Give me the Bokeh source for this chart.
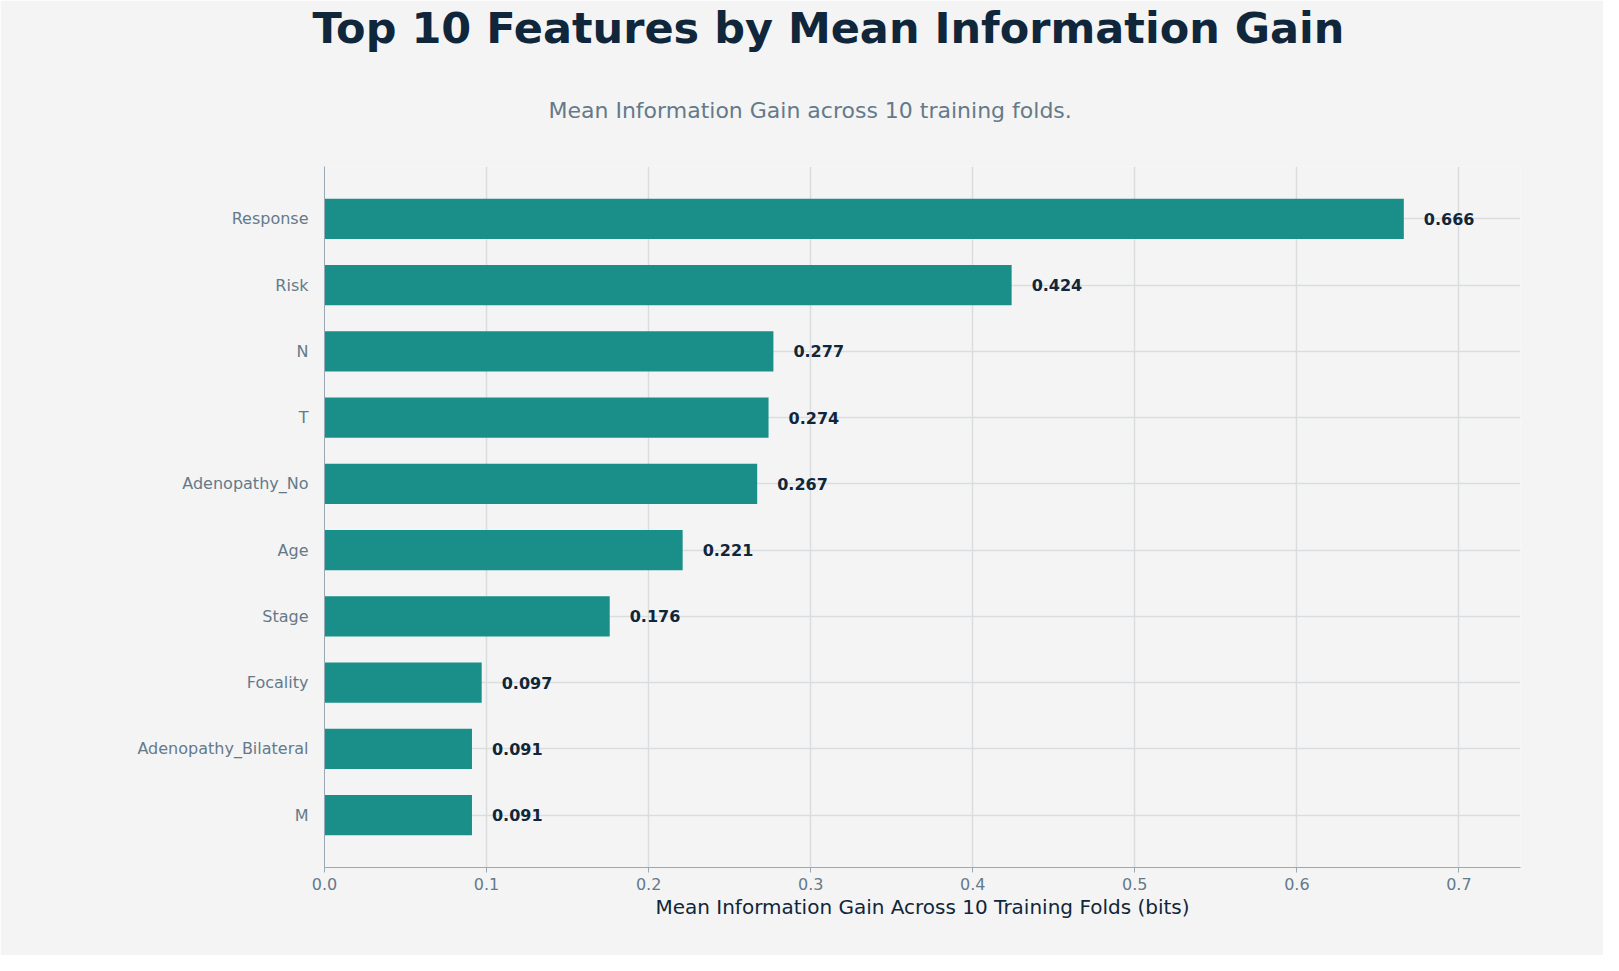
from bokeh.plotting import figure
from bokeh.models import ColumnDataSource, Title, FixedTicker, Range1d
from bokeh.embed import file_html
from bokeh.resources import INLINE

features = ["Response", "Risk", "N", "T", "Adenopathy_No", "Age", "Stage",
            "Focality", "Adenopathy_Bilateral", "M"]
values = [0.666, 0.424, 0.277, 0.274, 0.267, 0.221, 0.176, 0.097, 0.091, 0.091]
x_ticks = [0.0, 0.1, 0.2, 0.3, 0.4, 0.5, 0.6, 0.7]

n = len(features)
ypos = [n - 1 - i for i in range(n)]
src = ColumnDataSource(dict(y=ypos, v=values, lab=[f"{v:.3f}" for v in values]))

FONT = "DejaVu Sans"
p = figure(width=1603, height=955, output_backend="svg", toolbar_location=None,
           x_range=Range1d(0, 0.738), y_range=Range1d(-0.79, n - 1 + 0.79),
           background_fill_color="#f4f4f4", border_fill_color="#f4f4f4",
           min_border_left=324, min_border_right=83, min_border_bottom=88, min_border_top=28)
p.outline_line_color = None

sub = Title(text="Mean Information Gain across 10 training folds.", align="left", offset=224,
            text_font=FONT, text_font_size="22px", text_font_style="normal",
            text_color="#647a8a", standoff=87)
ttl = Title(text="Top 10 Features by Mean Information Gain", align="left", offset=-12,
            text_font=FONT, text_font_size="43px", text_font_style="bold",
            text_color="#10263a", standoff=0)
p.add_layout(sub, "above")
p.add_layout(ttl, "above")

p.hbar(y="y", right="v", left=0, height=0.61, source=src, color="#1a8f89", line_color=None)
p.text(x="v", y="y", text="lab", source=src, x_offset=20, text_baseline="middle",
       text_font_size="16px", text_font_style="bold", text_color="#10263a",
       text_font={"value": FONT})

p.xaxis.ticker = FixedTicker(ticks=x_ticks)
p.xaxis.major_label_overrides = {t: f"{t:.1f}" for t in x_ticks}
p.yaxis.ticker = FixedTicker(ticks=ypos)
p.yaxis.major_label_overrides = {yy: f for yy, f in zip(ypos, features)}
p.xaxis.axis_label = "Mean Information Gain Across 10 Training Folds (bits)"
p.xaxis.axis_label_text_font = FONT
p.xaxis.axis_label_text_font_size = "20px"
p.xaxis.axis_label_text_font_style = "normal"
p.xaxis.axis_label_text_color = "#10263a"
p.xaxis.axis_label_standoff = 2
for ax in (p.xaxis, p.yaxis):
    ax.major_label_text_font = FONT
    ax.major_label_text_font_size = "16px"
    ax.major_label_text_color = "#647a8a"
    ax.axis_line_color = "#9aa8b3"
    ax.minor_tick_line_color = None
p.xaxis.major_tick_line_color = "#9aa8b3"
p.xaxis.major_tick_in = 0
p.xaxis.major_tick_out = 5
p.yaxis.major_tick_line_color = None
p.yaxis.major_label_standoff = 10
p.xgrid.grid_line_color = "#d9dde0"
p.ygrid.grid_line_color = "#d9dde0"
p.xgrid.grid_line_width = 1.5
p.ygrid.grid_line_width = 1.5

open("out.html", "w").write(file_html(p, INLINE))
